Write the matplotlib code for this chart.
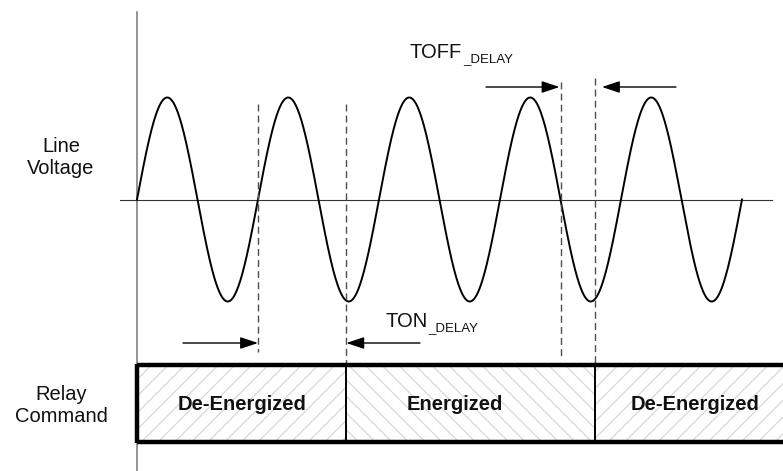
import numpy as np
import matplotlib
matplotlib.use('Agg')
import matplotlib.pyplot as plt
from matplotlib.patches import Rectangle

plt.rcParams['font.family'] = ['Liberation Sans', 'DejaVu Sans']
plt.rcParams['hatch.linewidth'] = 0.9

# signal data (time in mains cycles)
n_cycles = 5
ton_cmd = 1.0       # relay commanded on
ton_out = 1.73      # relay actually switched
toff_cmd = 3.5
toff_out = 3.785
states = ['De-Energized', 'Energized', 'De-Energized']
state_edges = [0.0, ton_out, toff_out, 5.34]
state_hatch = ['//', '\\\\', '//']

# time -> pixel, volts -> pixel
x0, px_per_cycle = 137, 121
y0, px_per_volt = 199.5, 102


def tx(t):
    return x0 + px_per_cycle * np.asarray(t)


def vy(v):
    return y0 - px_per_volt * np.asarray(v)


fig = plt.figure(figsize=(7.83, 4.71), dpi=100)
ax = fig.add_axes([0, 0, 1, 1])
ax.set_xlim(0, 783)
ax.set_ylim(471, 0)
ax.axis('off')

# axes lines
ax.plot([x0, x0], [12, 471], color='#777777', lw=1.1)
ax.plot([120, 772], [y0, y0], color='#333333', lw=0.8)

# line voltage
t = np.linspace(0, n_cycles, 2000)
ax.plot(tx(t), vy(np.sin(2 * np.pi * t)), color='black', lw=1.4)

# dashed markers
dash = dict(color='#4d4d4d', lw=1.0, dashes=(5, 3))
ax.plot([tx(ton_cmd)] * 2, [104, 352], **dash)
ax.plot([tx(ton_out)] * 2, [104, 365], **dash)
ax.plot([tx(toff_cmd)] * 2, [82, 358], **dash)
ax.plot([tx(toff_out)] * 2, [78, 365], **dash)

# arrows
arr = dict(arrowstyle='-|>,head_length=0.6,head_width=0.2', mutation_scale=18,
           color='black', lw=1.0, shrinkA=0, shrinkB=0)
ax.annotate('', xy=(tx(ton_cmd), 343), xytext=(183, 343), arrowprops=arr)
ax.annotate('', xy=(tx(ton_out), 343), xytext=(420, 343), arrowprops=arr)
ax.annotate('', xy=(tx(toff_cmd) - 1, 87), xytext=(486, 87), arrowprops=arr)
ax.annotate('', xy=(tx(toff_out) + 7, 87), xytext=(676, 87), arrowprops=arr)

fs = 14.5
ax.text(386, 327, 'TON', fontsize=fs, color='#111111', va='baseline')
ax.text(428, 331, '_DELAY', fontsize=9.5, color='#111111', va='baseline')
ax.text(409, 58, 'TOFF', fontsize=fs, color='#111111', va='baseline')
ax.text(463, 62, '_DELAY', fontsize=9.5, color='#111111', va='baseline')

# relay command bar
top, bot = 365, 442
label_shift = [0, -16, 6]
for i, name in enumerate(states):
    a, b = tx(state_edges[i]), tx(state_edges[i + 1])
    ax.add_patch(Rectangle((a, top), b - a, bot - top, facecolor='white',
                           edgecolor='#d8d8d8', lw=0, hatch=state_hatch[i]))
    ax.text((a + min(b, 783)) / 2 + label_shift[i], 405, name,
            fontsize=fs, fontweight='bold', ha='center', va='center', color='#111111')
ax.plot([x0, 790], [top, top], color='black', lw=3.2, solid_capstyle='butt')
ax.plot([x0, 790], [bot, bot], color='black', lw=3.2, solid_capstyle='butt')
ax.plot([x0, x0], [top - 1.1, bot + 1.1], color='black', lw=3.2, solid_capstyle='butt')
for e in state_edges[1:3]:
    ax.plot([tx(e)] * 2, [top, bot], color='black', lw=1.4)

# row labels
ax.text(61, 158, 'Line\nVoltage', fontsize=fs, ha='center', va='center',
        linespacing=1.2, color='#111111')
ax.text(61, 406, 'Relay\nCommand', fontsize=fs, ha='center', va='center',
        linespacing=1.2, color='#111111')

fig.savefig('out.png', dpi=100)
